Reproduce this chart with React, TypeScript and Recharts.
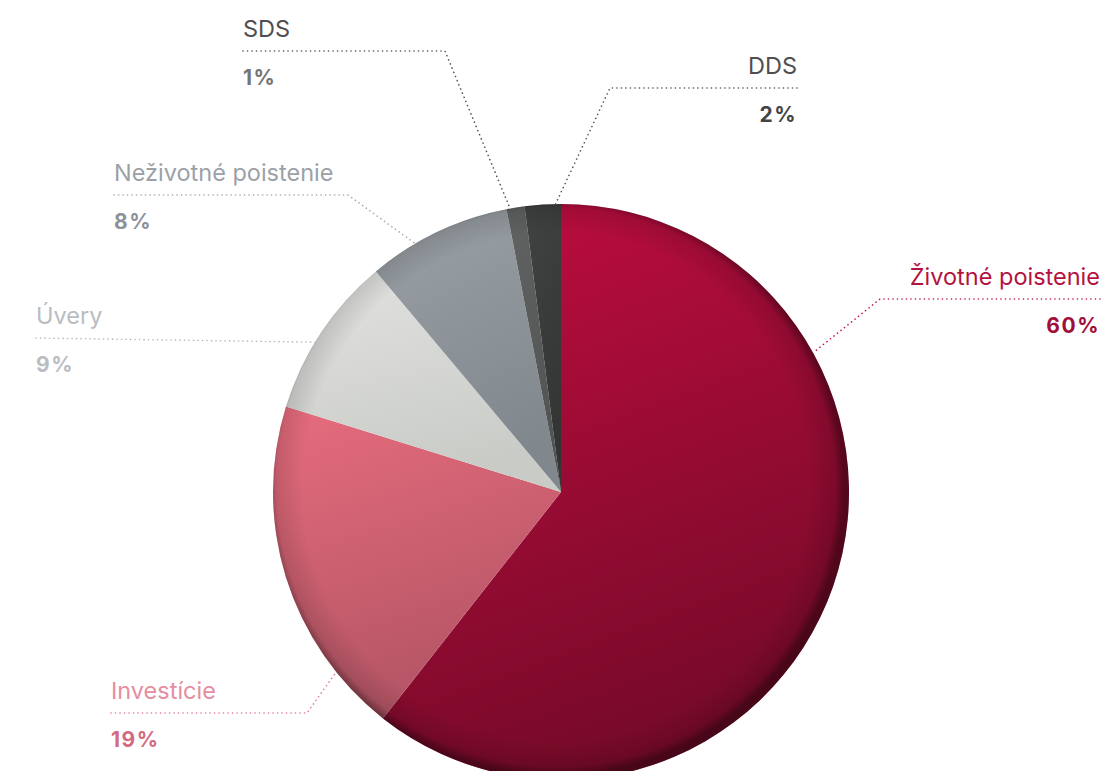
import { PieChart, Pie, Cell } from 'recharts';

// share of the portfolio, clockwise from 12 o'clock
const categories = ['Životné poistenie', 'Investície', 'Úvery', 'Neživotné poistenie', 'SDS', 'DDS'];
const shares = [60, 19, 9, 8, 1, 2];

const pieData = categories.map((name, i) => ({ name, value: shares[i] }));

const CX = 556;
const CY = 487;
const R = 288;

// slice gradients [top, bottom]
const sliceFills = [
  ['#c10d41', '#780a29'],
  ['#e66c7d', '#b45565'],
  ['#e2e3e0', '#c9cbc7'],
  ['#9ba1a6', '#80878d'],
  ['#626464', '#515353'],
  ['#3f4342', '#323534'],
];
const nameColors = ['#b3123f', '#e58ea0', '#b9bdc1', '#9ba1a7', '#4f4f4f', '#4f4f4f'];
const pctColors = ['#a10f38', '#d46a81', '#b9bdc1', '#8c9298', '#757575', '#444444'];
const dotColors = ['#c2184a', '#e07a92', '#b3b7bb', '#a3a8ad', '#555555', '#555555'];

// where each leader leaves the slice (fraction of its arc) and where its label sits
const labelLayout = [
  { frac: 0.28, elbowX: 880, lineY: 299, lineEnd: 1100, align: 'right' },
  { frac: 0.19, elbowX: 307, lineY: 713, lineEnd: 111, align: 'left' },
  { frac: 0.43, elbowX: null, lineY: 338, lineEnd: 36, align: 'left' },
  { frac: 0.33, elbowX: 348, lineY: 195, lineEnd: 114, align: 'left' },
  { frac: 0.2, elbowX: 445, lineY: 51, lineEnd: 243, align: 'left' },
  { frac: 0.85, elbowX: 610, lineY: 88, lineEnd: 797, align: 'right' },
];

const RAD = Math.PI / 180;

const renderLabel = (props: any) => {
  const { cx, cy, outerRadius, startAngle, endAngle, index, value, name } = props;
  const lay = labelLayout[index];
  const a = startAngle + lay.frac * (endAngle - startAngle);
  const ax = cx + outerRadius * Math.cos(-a * RAD);
  const ay = cy + outerRadius * Math.sin(-a * RAD);
  const ey = lay.lineY;
  const anchor = lay.align === 'right' ? 'end' : 'start';
  const pts = lay.elbowX == null ? `${lay.lineEnd},${ey} ${ax},${ay}` : `${lay.lineEnd},${ey} ${lay.elbowX},${ey} ${ax},${ay}`;
  return (
    <g>
      <polyline
        points={pts}
        fill="none"
        stroke={dotColors[index]}
        strokeWidth={1.6}
        strokeDasharray="0.1 4.4"
        strokeLinecap="round"
      />
      <text x={lay.lineEnd} y={ey - 14} textAnchor={anchor} fill={nameColors[index]} fontSize={23.5} fontFamily="Inter, sans-serif">
        {name}
      </text>
      <text
        x={lay.lineEnd}
        y={ey + 34}
        textAnchor={anchor}
        fill={pctColors[index]}
        fontSize={21}
        fontWeight={700}
        letterSpacing={1.5}
        fontFamily="Inter, sans-serif"
      >
        {value}%
      </text>
    </g>
  );
};

export default function App() {
  return (
    <div style={{ position: 'absolute', left: 0, top: 0, width: 1106, height: 771, background: '#fff' }}>
      <PieChart width={1106} height={771}>
        <defs>
          {sliceFills.map((c, i) => (
            <linearGradient key={i} id={`slice${i}`} x1="0" y1="0" x2="0.3" y2="1">
              <stop offset="0%" stopColor={c[0]} />
              <stop offset="100%" stopColor={c[1]} />
            </linearGradient>
          ))}
          <radialGradient id="edgeShade" gradientUnits="userSpaceOnUse" cx={CX} cy={CY} r={R}>
            <stop offset="0%" stopColor="#000" stopOpacity={0} />
            <stop offset="88%" stopColor="#000" stopOpacity={0} />
            <stop offset="97%" stopColor="#000" stopOpacity={0.12} />
            <stop offset="100%" stopColor="#000" stopOpacity={0.4} />
          </radialGradient>
        </defs>
        <Pie
          data={pieData}
          dataKey="value"
          nameKey="name"
          cx={CX}
          cy={CY}
          outerRadius={R}
          startAngle={90}
          endAngle={-270}
          stroke="none"
          label={renderLabel}
          labelLine={false}
          isAnimationActive={false}
        >
          {pieData.map((d, i) => (
            <Cell key={d.name} fill={`url(#slice${i})`} />
          ))}
        </Pie>
        <Pie
          data={pieData}
          dataKey="value"
          cx={CX}
          cy={CY}
          outerRadius={R}
          startAngle={90}
          endAngle={-270}
          stroke="none"
          fill="url(#edgeShade)"
          legendType="none"
          isAnimationActive={false}
          style={{ pointerEvents: 'none' }}
        />
      </PieChart>
    </div>
  );
}
